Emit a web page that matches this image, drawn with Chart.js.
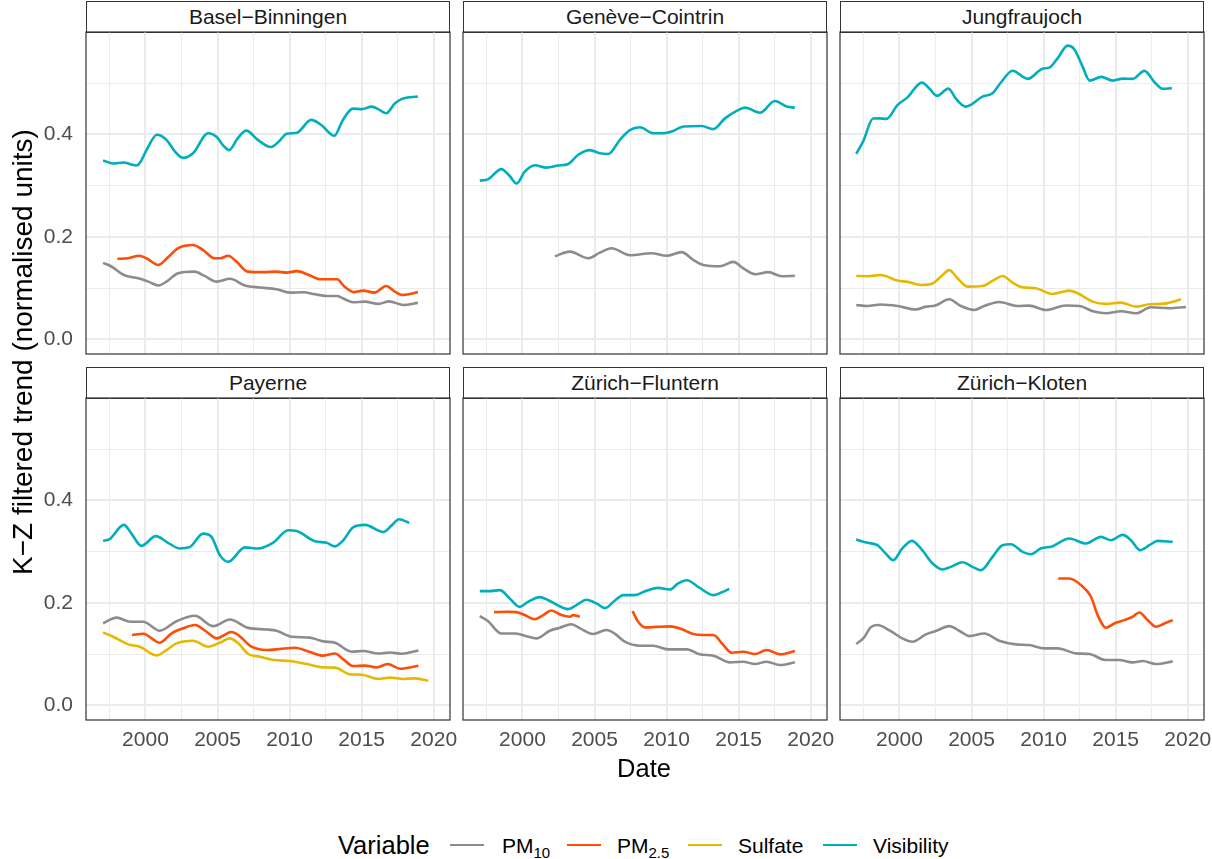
<!DOCTYPE html>
<html>
<head>
<meta charset="utf-8">
<script src="https://cdn.jsdelivr.net/npm/chart.js@4.4.1/dist/chart.umd.min.js"></script>
<style>
  html, body { margin: 0; padding: 0; background: #ffffff; }
  body { width: 1212px; height: 859px; position: relative; overflow: hidden;
         font-family: "Liberation Sans", Arial, Helvetica, sans-serif; }
  canvas { position: absolute; }
  .strip { position: absolute; box-sizing: border-box; border: 1.2px solid #333333; background: #ffffff;
           text-align: center; font-size: 21px; color: #1a1a1a; white-space: nowrap; }
  .title { position: absolute; color: #000000; white-space: nowrap; }
  .legend-text { position: absolute; font-size: 21px; line-height: 21px; color: #000000; white-space: nowrap; }
  .legend-text sub { font-size: 15px; vertical-align: baseline; position: relative; top: 5px; }
  .key { position: absolute; height: 2.6px; }
</style>
</head>
<body>
<script>
// ---- axis ticks -------------------------------------------------------
const xTickValues = [1997.5, 2000, 2002.5, 2005, 2007.5, 2010, 2012.5, 2015, 2017.5, 2020];
const xTickLabels = ['', '2000', '', '2005', '', '2010', '', '2015', '', '2020'];
const yTickValues = [0, 0.1, 0.2, 0.3, 0.4, 0.5];
const yTickLabels = ['0.0', '', '0.2', '', '0.4', ''];

// ---- stations (facet order) -------------------------------------------
const stations = ['Basel−Binningen', 'Genève−Cointrin', 'Jungfraujoch',
                  'Payerne', 'Zürich−Fluntern', 'Zürich−Kloten'];

// ---- K-Z filtered trends: [decimal year, normalised value] -------------
const baselPM10 = [[1997.06,0.149],[1997.64,0.142],[1998.5,0.1255],[1999.5,0.119],[2000.2,0.1125],[2000.9,0.105],[2001.46,0.1125],[2002.27,0.129],[2003.4,0.132],[2004.1,0.1236],[2004.93,0.1125],[2005.86,0.118],[2006.9,0.105],[2007.94,0.101],[2009.1,0.0976],[2010.0,0.091],[2010.95,0.0917],[2011.76,0.0878],[2012.57,0.0846],[2013.3,0.0846],[2013.84,0.078],[2014.4,0.0722],[2015.2,0.0735],[2016.16,0.069],[2016.9,0.074],[2017.9,0.067],[2018.9,0.071]];
const baselPM25 = [[1998.05,0.157],[1998.8,0.158],[1999.56,0.163],[2000.07,0.158],[2000.9,0.145],[2001.6,0.161],[2002.27,0.178],[2003.3,0.184],[2004.0,0.174],[2004.8,0.158],[2005.2,0.158],[2005.74,0.163],[2006.3,0.152],[2007.1,0.132],[2008.2,0.131],[2009.1,0.132],[2009.8,0.130],[2010.5,0.133],[2011.3,0.126],[2012.1,0.117],[2013.3,0.117],[2013.8,0.103],[2014.5,0.092],[2015.1,0.095],[2015.9,0.091],[2016.7,0.104],[2017.3,0.093],[2017.85,0.0865],[2018.36,0.0885],[2018.9,0.092]];
const baselVisibility = [[1997.06,0.349],[1997.75,0.343],[1998.5,0.345],[1999.0,0.341],[1999.37,0.339],[1999.7,0.348],[2000.07,0.369],[2000.8,0.399],[2001.46,0.389],[2002.0,0.368],[2002.6,0.354],[2003.3,0.363],[2004.35,0.402],[2004.93,0.395],[2005.4,0.378],[2005.8,0.369],[2006.4,0.392],[2007.0,0.407],[2007.8,0.389],[2008.7,0.375],[2009.3,0.387],[2009.8,0.401],[2010.5,0.403],[2011.5,0.428],[2012.2,0.418],[2013.1,0.397],[2013.7,0.428],[2014.4,0.45],[2015.0,0.449],[2015.7,0.454],[2016.2,0.448],[2016.7,0.441],[2017.3,0.46],[2017.8,0.469],[2018.9,0.4735]];

const genevePM10 = [[2002.25,0.162],[2003.29,0.171],[2004.56,0.158],[2005.37,0.169],[2006.18,0.1776],[2007.45,0.164],[2008.96,0.168],[2010.0,0.163],[2011.04,0.17],[2011.85,0.155],[2012.55,0.145],[2013.7,0.1424],[2014.63,0.151],[2015.32,0.1385],[2016.13,0.127],[2017.06,0.131],[2018.0,0.123],[2018.9,0.124]];
const geneveVisibility = [[1997.04,0.3096],[1997.6,0.312],[1998.54,0.332],[1999.1,0.319],[1999.6,0.304],[2000.16,0.327],[2000.86,0.3395],[2001.67,0.335],[2002.48,0.339],[2003.17,0.342],[2003.87,0.36],[2004.68,0.369],[2005.37,0.363],[2005.95,0.3616],[2006.76,0.389],[2007.45,0.408],[2008.15,0.4137],[2009.07,0.402],[2009.77,0.402],[2010.46,0.4065],[2011.16,0.415],[2012.43,0.416],[2013.24,0.41],[2014.05,0.431],[2014.86,0.4455],[2015.44,0.452],[2016.48,0.442],[2017.52,0.465],[2018.33,0.454],[2018.9,0.452]];

const jungfrauPM10 = [[1997.0,0.067],[1997.78,0.065],[1998.7,0.068],[1999.86,0.065],[2001.13,0.058],[2001.83,0.0637],[2002.5,0.066],[2003.45,0.078],[2004.26,0.065],[2005.19,0.0572],[2005.88,0.065],[2006.92,0.0728],[2008.2,0.065],[2009.0,0.0657],[2010.16,0.0572],[2011.55,0.066],[2012.48,0.065],[2013.5,0.054],[2014.33,0.0507],[2015.37,0.0546],[2016.4,0.0507],[2017.45,0.0624],[2018.7,0.0605],[2019.88,0.063]];
const jungfrauSulfate = [[1997.0,0.1236],[1997.78,0.123],[1998.7,0.1255],[1999.86,0.1145],[2000.56,0.112],[2001.48,0.106],[2002.3,0.109],[2002.87,0.122],[2003.45,0.135],[2004.03,0.119],[2004.72,0.1028],[2005.76,0.104],[2006.57,0.1158],[2007.15,0.1236],[2007.85,0.1106],[2008.54,0.1015],[2009.47,0.0995],[2010.6,0.0885],[2011.78,0.095],[2012.36,0.0898],[2013.4,0.0735],[2014.33,0.069],[2015.37,0.0715],[2016.4,0.0637],[2017.34,0.0683],[2018.38,0.0696],[2019.54,0.078]];
const jungfrauVisibility = [[1997.0,0.3616],[1997.48,0.386],[1998.17,0.4306],[1998.6,0.431],[1999.1,0.43],[1999.86,0.457],[2000.56,0.472],[2001.55,0.5008],[2002.06,0.4898],[2002.6,0.4748],[2003.4,0.489],[2003.9,0.470],[2004.6,0.454],[2005.76,0.4735],[2006.46,0.480],[2007.0,0.4995],[2007.85,0.524],[2008.9,0.508],[2009.93,0.528],[2010.4,0.530],[2010.97,0.548],[2011.67,0.573],[2012.13,0.566],[2012.66,0.535],[2013.2,0.5047],[2014.0,0.512],[2014.8,0.5047],[2015.5,0.5086],[2016.18,0.508],[2017.0,0.5236],[2017.7,0.5015],[2018.26,0.4885],[2018.9,0.490]];

const payernePM10 = [[1997.06,0.160],[1998.0,0.171],[1998.96,0.163],[1999.84,0.163],[2001.0,0.1455],[2002.15,0.164],[2003.43,0.1747],[2004.7,0.1545],[2005.86,0.1675],[2007.13,0.151],[2008.4,0.148],[2009.1,0.1455],[2010.14,0.1338],[2011.4,0.132],[2012.34,0.1247],[2013.15,0.122],[2014.3,0.1045],[2015.1,0.106],[2016.16,0.101],[2016.97,0.103],[2017.78,0.1006],[2018.94,0.107]];
const payernePM25 = [[1999.07,0.137],[1999.84,0.1396],[2001.0,0.122],[2001.8,0.140],[2002.6,0.15],[2003.43,0.1565],[2004.24,0.1435],[2004.93,0.1305],[2005.97,0.143],[2006.44,0.137],[2007.36,0.1143],[2008.4,0.108],[2009.3,0.1097],[2010.37,0.1123],[2011.4,0.104],[2012.34,0.0968],[2013.15,0.101],[2013.73,0.0896],[2014.4,0.0766],[2015.23,0.0773],[2016.04,0.074],[2016.8,0.0805],[2017.67,0.0714],[2018.94,0.0773]];
const payerneSulfate = [[1997.06,0.142],[1997.75,0.1338],[1998.8,0.1188],[1999.6,0.1143],[2000.76,0.0974],[2001.46,0.1078],[2002.15,0.1208],[2003.3,0.126],[2004.35,0.1143],[2005.16,0.122],[2005.86,0.1305],[2006.44,0.1208],[2007.13,0.100],[2007.94,0.0948],[2008.87,0.0883],[2010.0,0.0864],[2011.2,0.0805],[2012.34,0.074],[2013.15,0.0734],[2014.2,0.0604],[2015.0,0.0597],[2016.16,0.0513],[2016.97,0.0539],[2017.9,0.0513],[2018.6,0.0526],[2019.63,0.048]];
const payerneVisibility = [[1997.06,0.3208],[1997.5,0.324],[1998.5,0.352],[1999.03,0.335],[1999.72,0.311],[2000.72,0.33],[2001.57,0.317],[2002.38,0.306],[2003.08,0.309],[2004.0,0.335],[2004.58,0.3286],[2005.16,0.293],[2005.74,0.28],[2006.9,0.308],[2007.82,0.306],[2008.87,0.3175],[2009.9,0.3416],[2010.49,0.340],[2011.76,0.320],[2012.57,0.317],[2013.15,0.310],[2013.73,0.322],[2014.4,0.347],[2015.23,0.352],[2016.5,0.338],[2017.08,0.351],[2017.6,0.363],[2018.3,0.356]];

const flunternPM10 = [[1997.04,0.174],[1997.6,0.1643],[1998.54,0.140],[1999.47,0.140],[2000.16,0.1357],[2000.97,0.1305],[2001.9,0.1455],[2002.6,0.1513],[2003.4,0.158],[2004.0,0.150],[2004.9,0.139],[2005.83,0.1468],[2006.4,0.140],[2007.1,0.124],[2008.15,0.1162],[2009.07,0.1162],[2010.1,0.109],[2011.4,0.109],[2012.3,0.0994],[2013.24,0.0968],[2014.4,0.0838],[2015.32,0.085],[2016.13,0.0805],[2016.94,0.085],[2017.87,0.0786],[2018.9,0.0838]];
const flunternPM25 = [[1998.03,0.1818],[1998.9,0.1825],[1999.58,0.1818],[2000.16,0.176],[2000.86,0.168],[2001.44,0.176],[2002.0,0.185],[2002.7,0.176],[2003.3,0.1727],[2003.5,0.176],[2003.98,0.1727],[2005.8,null],[2007.64,0.1838],[2008.03,0.163],[2008.5,0.152],[2009.3,0.153],[2010.23,0.1539],[2010.93,0.150],[2011.85,0.139],[2012.55,0.137],[2013.24,0.137],[2013.94,0.1175],[2014.5,0.1026],[2015.32,0.1045],[2016.13,0.100],[2016.94,0.1078],[2017.87,0.0994],[2018.9,0.1058]];
const flunternVisibility = [[1997.04,0.2227],[1997.73,0.2227],[1998.43,0.2247],[1999.12,0.2084],[1999.8,0.192],[2000.4,0.202],[2001.2,0.211],[2002.0,0.202],[2003.17,0.1877],[2003.75,0.1955],[2004.44,0.206],[2005.14,0.1987],[2005.72,0.1896],[2006.4,0.204],[2007.0,0.215],[2007.8,0.215],[2008.6,0.2234],[2009.42,0.229],[2010.23,0.226],[2010.8,0.2377],[2011.4,0.244],[2012.3,0.229],[2013.24,0.215],[2013.8,0.220],[2014.35,0.227]];

const klotenPM10 = [[1997.0,0.1195],[1997.55,0.1325],[1998.0,0.152],[1998.47,0.1565],[1999.28,0.1468],[2000.2,0.1305],[2000.9,0.124],[2001.83,0.1383],[2002.52,0.1448],[2003.45,0.1545],[2004.26,0.1435],[2004.84,0.135],[2005.88,0.140],[2006.92,0.126],[2008.08,0.1188],[2009.0,0.1175],[2010.05,0.111],[2010.97,0.111],[2012.25,0.1013],[2013.17,0.100],[2014.33,0.0883],[2015.25,0.0883],[2016.18,0.0838],[2016.87,0.0864],[2017.8,0.0805],[2018.96,0.0857]];
const klotenPM25 = [[2011.02,0.2474],[2011.78,0.2474],[2012.6,0.2344],[2013.29,0.2117],[2013.75,0.176],[2014.33,0.1513],[2014.9,0.1597],[2015.6,0.1662],[2016.18,0.1727],[2016.64,0.181],[2017.22,0.1662],[2017.8,0.1532],[2018.38,0.1597],[2018.96,0.1662]];
const klotenVisibility = [[1997.0,0.3234],[1997.78,0.317],[1998.47,0.3123],[1999.05,0.296],[1999.56,0.283],[2000.2,0.306],[2000.86,0.3208],[2001.48,0.306],[2002.3,0.2766],[2002.99,0.265],[2003.56,0.270],[2004.37,0.279],[2005.07,0.270],[2005.65,0.2636],[2006.46,0.2896],[2007.15,0.3123],[2007.73,0.3143],[2008.54,0.2994],[2009.12,0.2948],[2009.8,0.306],[2010.6,0.310],[2011.78,0.3253],[2012.94,0.3156],[2013.98,0.3286],[2014.68,0.322],[2015.49,0.3325],[2016.06,0.322],[2016.7,0.3026],[2017.34,0.3123],[2017.92,0.3208],[2018.96,0.3188]];

// series available per station, in facet order
const stationSeries = [
  { PM10: baselPM10, PM25: baselPM25, Visibility: baselVisibility },
  { PM10: genevePM10, Visibility: geneveVisibility },
  { PM10: jungfrauPM10, Sulfate: jungfrauSulfate, Visibility: jungfrauVisibility },
  { PM10: payernePM10, PM25: payernePM25, Sulfate: payerneSulfate, Visibility: payerneVisibility },
  { PM10: flunternPM10, PM25: flunternPM25, Visibility: flunternVisibility },
  { PM10: klotenPM10, PM25: klotenPM25, Visibility: klotenVisibility }
];

// ---- styling ----------------------------------------------------------
const variableColors = { PM10: '#8c8c8c', PM25: '#fc4e07', Sulfate: '#e7b800', Visibility: '#00afbb' };
const drawOrder = ['Visibility', 'Sulfate', 'PM25', 'PM10'];   // first dataset is painted on top
const GRID = '#ebebeb';
const X_MIN = 1995.875, X_MAX = 2021.13;
const Y_MIN = -0.0287, Y_MAX = 0.5995;

// facet geometry (pixels)
const colLeft = [86, 463, 840];
const rowTop = [32, 398];
const PANEL_W = 364, PANEL_H = 322;
const Y_AXIS_W = 86, X_AXIS_H = 45, PAD = 3, PAD_RIGHT_BOTTOM_ROW = 30;

Chart.defaults.font.family = "'Liberation Sans', Arial, Helvetica, sans-serif";
Chart.defaults.devicePixelRatio = 1;

const panelBorder = {
  id: 'panelBorder',
  afterDraw(chart) {
    const { ctx, chartArea: a } = chart;
    ctx.save();
    ctx.strokeStyle = '#333333';
    ctx.lineWidth = 1.2;
    ctx.strokeRect(a.left, a.top, a.right - a.left, a.bottom - a.top);
    ctx.restore();
  }
};

function zeroPadding(s) { s.paddingLeft = 0; s.paddingRight = 0; s.paddingTop = 0; s.paddingBottom = 0; }

function makePanel(index) {
  const r = Math.floor(index / 3), c = index % 3;
  const showY = c === 0, showX = r === 1;
  const axisW = showY ? Y_AXIS_W : 0;
  const axisH = showX ? X_AXIS_H : 0;
  const padR = showX ? PAD_RIGHT_BOTTOM_ROW : PAD;

  // strip label
  const strip = document.createElement('div');
  strip.className = 'strip';
  strip.textContent = stations[index];
  Object.assign(strip.style, {
    left: colLeft[c] + 'px', top: (rowTop[r] - 31) + 'px',
    width: PANEL_W + 'px', height: '32px', lineHeight: '29px'
  });
  document.body.appendChild(strip);

  const canvas = document.createElement('canvas');
  const w = PAD + axisW + PANEL_W + padR;
  const h = PAD + PANEL_H + axisH + PAD;
  canvas.width = w; canvas.height = h;
  canvas.style.left = (colLeft[c] - axisW - PAD) + 'px';
  canvas.style.top = (rowTop[r] - PAD) + 'px';
  canvas.style.width = w + 'px'; canvas.style.height = h + 'px';
  document.body.appendChild(canvas);

  const series = stationSeries[index];
  const datasets = drawOrder.filter(k => series[k]).map(k => ({
    label: k,
    data: series[k].map(([x, y]) => ({ x, y })),
    borderColor: variableColors[k],
    borderWidth: 2.6,
    pointRadius: 0,
    fill: false,
    spanGaps: false,
    cubicInterpolationMode: 'monotone'
  }));

  new Chart(canvas, {
    type: 'line',
    data: { datasets },
    options: {
      responsive: false,
      animation: false,
      events: [],
      layout: { padding: { left: PAD, top: PAD, right: padR, bottom: PAD } },
      plugins: { legend: { display: false }, tooltip: { enabled: false } },
      scales: {
        x: {
          type: 'linear', min: X_MIN, max: X_MAX,
          afterBuildTicks: s => { s.ticks = xTickValues.map(v => ({ value: v })); },
          afterFit: s => { s.height = axisH; zeroPadding(s); },
          grid: { color: GRID, lineWidth: ctx => (xTickLabels[ctx.index] ? 2 : 1), drawTicks: false },
          border: { display: false },
          ticks: {
            display: showX, autoSkip: false, maxRotation: 0, minRotation: 0, padding: 8,
            color: '#4d4d4d', font: { size: 21 },
            callback: (v, i) => xTickLabels[i]
          }
        },
        y: {
          type: 'linear', min: Y_MIN, max: Y_MAX,
          afterBuildTicks: s => { s.ticks = yTickValues.map(v => ({ value: v })); },
          afterFit: s => { s.width = axisW; zeroPadding(s); },
          grid: { color: GRID, lineWidth: ctx => (yTickLabels[ctx.index] ? 2 : 1), drawTicks: false },
          border: { display: false },
          ticks: {
            display: showY, autoSkip: false, padding: 13,
            color: '#4d4d4d', font: { size: 21 },
            callback: (v, i) => yTickLabels[i]
          }
        }
      }
    },
    plugins: [panelBorder]
  });
}

stations.forEach((_, i) => makePanel(i));

// ---- axis titles ------------------------------------------------------
const xTitle = document.createElement('div');
xTitle.className = 'title';
xTitle.textContent = 'Date';
Object.assign(xTitle.style, { left: '444px', width: '400px', textAlign: 'center', top: '756px',
  fontSize: '25.5px', lineHeight: '25.5px' });
document.body.appendChild(xTitle);

const yTitle = document.createElement('div');
yTitle.className = 'title';
yTitle.textContent = 'K−Z filtered trend (normalised units)';
Object.assign(yTitle.style, { left: (22.5 - 350) + 'px', top: (352 - 14) + 'px', width: '700px',
  height: '28px', textAlign: 'center', fontSize: '28px', lineHeight: '28px',
  transform: 'rotate(-90deg)' });
document.body.appendChild(yTitle);

// ---- legend -----------------------------------------------------------
const legendTitle = document.createElement('div');
legendTitle.className = 'title';
legendTitle.textContent = 'Variable';
Object.assign(legendTitle.style, { left: '338px', top: '832.5px', fontSize: '25.5px', lineHeight: '25.5px' });
document.body.appendChild(legendTitle);

const legendItems = [
  { key: 'PM10', html: 'PM<sub>10</sub>', keyLeft: 450, textLeft: 502 },
  { key: 'PM25', html: 'PM<sub>2.5</sub>', keyLeft: 567, textLeft: 617 },
  { key: 'Sulfate', html: 'Sulfate', keyLeft: 688, textLeft: 738 },
  { key: 'Visibility', html: 'Visibility', keyLeft: 823, textLeft: 873 }
];
legendItems.forEach(item => {
  const k = document.createElement('div');
  k.className = 'key';
  Object.assign(k.style, { left: item.keyLeft + 'px', top: '843.7px', width: '34px', background: variableColors[item.key] });
  document.body.appendChild(k);
  const t = document.createElement('div');
  t.className = 'legend-text';
  t.innerHTML = item.html;
  Object.assign(t.style, { left: item.textLeft + 'px', top: '834.7px' });
  document.body.appendChild(t);
});
</script>
</body>
</html>
